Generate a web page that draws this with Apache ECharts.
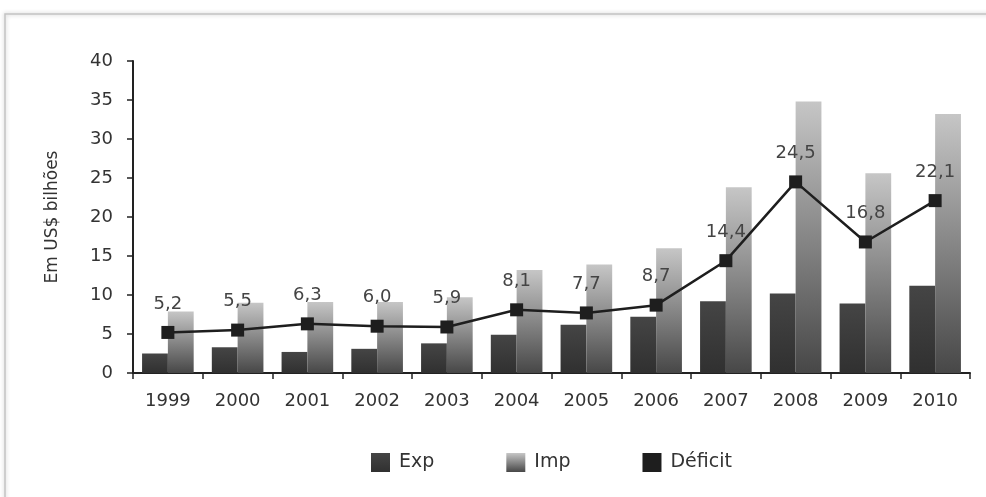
<!DOCTYPE html>
<html>
<head>
<meta charset="utf-8">
<script src="https://cdn.jsdelivr.net/npm/echarts@6/dist/echarts.min.js"></script>
<style>
html,body{margin:0;padding:0;background:#fff;}
#chart{width:986px;height:497px;}
</style>
</head>
<body>
<div id="chart"></div>
<script>
const years = ['1999','2000','2001','2002','2003','2004','2005','2006','2007','2008','2009','2010'];
const expValues = [2.5, 3.3, 2.7, 3.1, 3.8, 4.9, 6.2, 7.2, 9.2, 10.2, 8.9, 11.2];
const impValues = [7.9, 9.0, 9.1, 9.1, 9.7, 13.2, 13.9, 16.0, 23.8, 34.8, 25.6, 33.2];
const deficitValues = [5.2, 5.5, 6.3, 6.0, 5.9, 8.1, 7.7, 8.7, 14.4, 24.5, 16.8, 22.1];
const yTicks = [0, 5, 10, 15, 20, 25, 30, 35, 40];

const chart = echarts.init(document.getElementById('chart'));
const font = 'DejaVu Sans, Verdana, sans-serif';
const impGrad = new echarts.graphic.LinearGradient(0, 0, 0, 1, [
  {offset: 0, color: '#c6c6c6'},
  {offset: 1, color: '#474747'}
]);
const expGrad = new echarts.graphic.LinearGradient(0, 0, 0, 1, [
  {offset: 0, color: '#454545'},
  {offset: 1, color: '#303030'}
]);
chart.setOption({
  animation: false,
  backgroundColor: '#fff',
  graphic: [{
    type: 'rect',
    shape: {x: 5, y: 14, width: 1000, height: 520},
    style: {fill: 'none', stroke: '#c4c4c4', lineWidth: 1.5, shadowBlur: 4, shadowColor: 'rgba(0,0,0,0.25)'},
    silent: true, z: -10
  }],
  grid: {left: 133, right: 16, top: 61, bottom: 124},
  legend: {
    left: 366, top: 448,
    itemWidth: 19, itemHeight: 19, itemGap: 72,
    textStyle: {fontFamily: font, fontSize: 19, color: '#333', padding: [0, 0, 0, 4]},
    data: [
      {name: 'Exp', icon: 'rect'},
      {name: 'Imp', icon: 'rect'},
      {name: 'Déficit', icon: 'rect'}
    ]
  },
  xAxis: {
    type: 'category',
    data: years,
    axisLine: {lineStyle: {color: '#222', width: 2}},
    axisTick: {show: true, length: 6, lineStyle: {color: '#222', width: 1.5}},
    axisLabel: {fontFamily: font, fontSize: 18, color: '#333', margin: 19}
  },
  yAxis: {
    type: 'value',
    min: 0, max: 40, interval: 5,
    name: 'Em US$ bilhões',
    nameLocation: 'middle',
    nameGap: 72,
    nameTextStyle: {fontFamily: font, fontSize: 17, color: '#333'},
    axisLine: {show: true, lineStyle: {color: '#222', width: 2}},
    axisTick: {show: true, length: 6, lineStyle: {color: '#222', width: 1.5}},
    splitLine: {show: false},
    axisLabel: {fontFamily: font, fontSize: 18, color: '#333', margin: 20,
      formatter: v => yTicks.includes(v) ? String(v) : ''}
  },
  series: [
    {
      name: 'Exp', type: 'bar', data: expValues,
      barGap: '0%', barCategoryGap: '26%',
      itemStyle: {color: expGrad}
    },
    {
      name: 'Imp', type: 'bar', data: impValues,
      barGap: '0%', barCategoryGap: '26%',
      itemStyle: {color: impGrad}
    },
    {
      name: 'Déficit', type: 'line', data: deficitValues,
      symbol: 'rect', symbolSize: 13,
      lineStyle: {color: '#1e1e1e', width: 2.5},
      itemStyle: {color: '#1e1e1e'},
      z: 5,
      label: {
        show: true, position: 'top', distance: 13,
        fontFamily: font, fontSize: 18, color: '#444',
        formatter: p => p.value.toFixed(1).replace('.', ',')
      }
    }
  ]
});
</script>
</body>
</html>
